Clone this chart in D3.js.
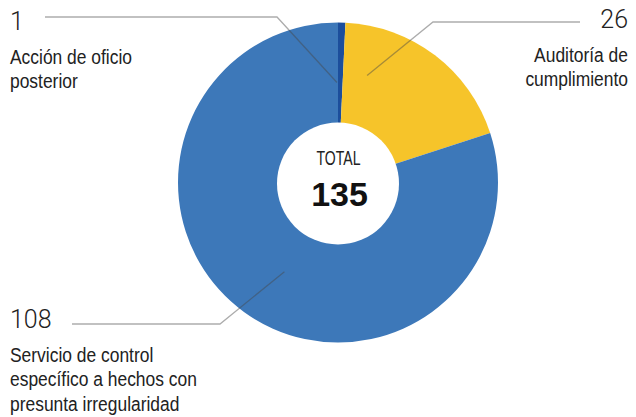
<!DOCTYPE html>
<html>
<head>
<meta charset="utf-8">
<script src="https://cdn.jsdelivr.net/npm/d3@7"></script>
<style>
  html, body { margin: 0; padding: 0; background: #ffffff; }
  svg { display: block; }
  .num { font-family: Roboto, "Liberation Sans", sans-serif; font-weight: 300; font-size: 25px; fill: #222; }
  .lbl { font-family: "Liberation Sans", Arial, sans-serif; font-size: 21px; fill: #222; }
</style>
</head>
<body>
<svg id="chart" width="636" height="417"></svg>
<script>
// Actions by type
const categories = [
  "Acción de oficio posterior",
  "Auditoría de cumplimiento",
  "Servicio de control específico a hechos con presunta irregularidad"
];
const values = [1, 26, 108];
const labelLines = [
  ["Acción de oficio", "posterior"],
  ["Auditoría de", "cumplimiento"],
  ["Servicio de control", "específico a hechos con", "presunta irregularidad"]
];
const colors = ["#1c4e9c", "#f6c42a", "#3d78b9"];
const totalLabel = "TOTAL";

const W = 636, H = 417;
const cx = 338, cy = 182.5;
const outerR = 160, innerR = 61;
const condense = 0.83; // horizontal squeeze for the condensed label face

// Callout placement: number position, text lines, horizontal leader and
// the polar point (degrees clockwise from 12 o'clock, radius) where it ends.
const callouts = [
  { x: 10,  y: 30,  anchor: "start", lineY: 17,  from: 45,  elbow: 277, tipDeg: -0.6, tipR: 100 },
  { x: 628, y: 28,  anchor: "end",   lineY: 22,  from: 580, elbow: 433, tipDeg: 15.2, tipR: 111 },
  { x: 10,  y: 328, anchor: "start", lineY: 324, from: 72,  elbow: 220, tipDeg: 211,  tipR: 104 }
];
const lineGap = 24.5, firstGap = 34;

const svg = d3.select("#chart");

const pie = d3.pie().sort(null).value(d => d).startAngle(0).endAngle(2 * Math.PI);
const arcs = pie(values);
const arc = d3.arc().innerRadius(0).outerRadius(outerR);

const g = svg.append("g").attr("transform", `translate(${cx},${cy})`);

g.selectAll("path.slice")
  .data(arcs)
  .join("path")
  .attr("class", "slice")
  .attr("d", arc)
  .attr("fill", (d, i) => colors[i]);

// Leader lines
const toXY = (deg, r) => {
  const a = deg * Math.PI / 180;
  return [cx + r * Math.sin(a), cy - r * Math.cos(a)];
};
const line = d3.line();
svg.selectAll("path.leader")
  .data(callouts)
  .join("path")
  .attr("class", "leader")
  .attr("d", c => line([[c.from, c.lineY], [c.elbow, c.lineY], toXY(c.tipDeg, c.tipR)]))
  .attr("fill", "none")
  .attr("stroke", "rgba(70,70,70,0.45)")
  .attr("stroke-width", 1.3);

// White centre disc with the total
svg.append("circle")
  .attr("cx", cx).attr("cy", cy + 1)
  .attr("r", innerR)
  .attr("fill", "#ffffff");

svg.append("text")
  .attr("x", cx + 0.5).attr("y", 165)
  .attr("text-anchor", "middle")
  .attr("font-family", "'Liberation Sans', Arial, sans-serif")
  .attr("font-size", 19.5)
  .attr("textLength", 44)
  .attr("lengthAdjust", "spacingAndGlyphs")
  .attr("fill", "#222")
  .text(totalLabel);

svg.append("text")
  .attr("x", cx + 1.5).attr("y", 206)
  .attr("text-anchor", "middle")
  .attr("font-family", "'Liberation Sans', Arial, sans-serif")
  .attr("font-weight", "bold")
  .attr("font-size", 34)
  .attr("fill", "#111")
  .text(d3.sum(values));

// Callout numbers and category labels
callouts.forEach((c, i) => {
  svg.append("text")
    .attr("class", "num")
    .attr("x", c.x).attr("y", c.y)
    .attr("text-anchor", c.anchor)
    .text(values[i]);
  const t = svg.append("text")
    .attr("class", "lbl")
    .attr("text-anchor", c.anchor)
    .attr("transform", `translate(${c.x},0) scale(${condense},1) translate(${-c.x},0)`);
  labelLines[i].forEach((s, k) => {
    t.append("tspan")
      .attr("x", c.x)
      .attr("y", c.y + firstGap + k * lineGap)
      .text(s);
  });
});
</script>
</body>
</html>
